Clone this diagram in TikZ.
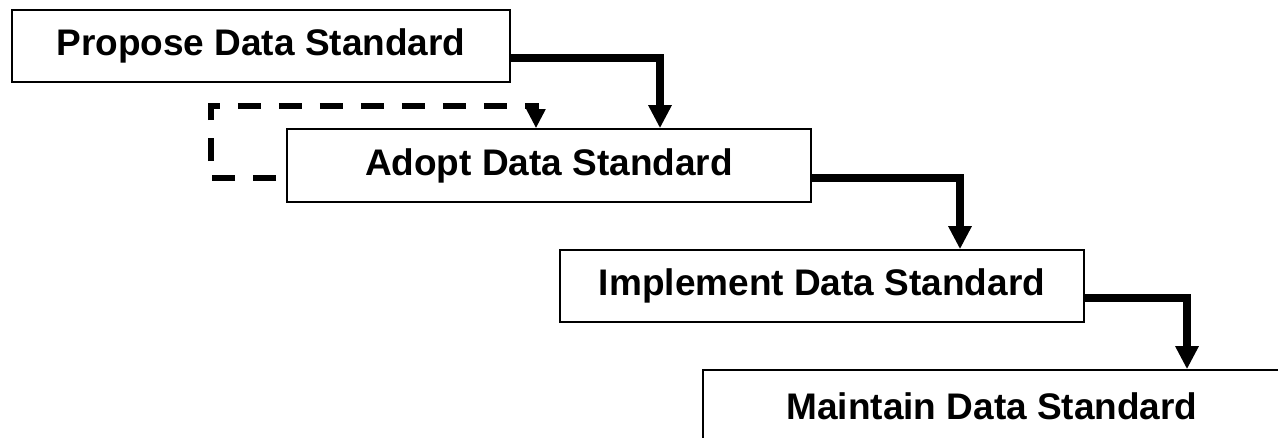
\documentclass[tikz,border=0pt]{standalone}
\usepackage{fontspec}
\setmainfont{Liberation Sans}
\usetikzlibrary{arrows.meta}
\begin{document}
\begin{tikzpicture}[x=1pt,y=-1pt,
  stage/.style={draw=black,line width=1.6pt,fill=white,inner sep=0pt,
    font=\fontsize{37}{40}\selectfont\bfseries},
  conn/.style={line width=7.5pt,line join=miter,-{Triangle[width=22pt,length=23pt]}},
  loopback/.style={line width=5.5pt,dash pattern=on 23pt off 18pt,dash phase=31pt,
    -{Triangle[width=18pt,length=19pt]}}]
\useasboundingbox (0,0) rectangle (1278,438);
\clip (0,0) rectangle (1278,438);
\node[stage,minimum width=498pt,minimum height=72pt] (b1) at (261,46) {Propose Data Standard};
\node[stage,minimum width=524pt,minimum height=73pt] (b2) at (549,165.5) {Adopt Data Standard};
\node[stage,minimum width=524pt,minimum height=72pt] (b3) at (822,286) {Implement Data Standard};
\node[stage,minimum width=578pt,minimum height=72pt] (b4) at (992,406) {Maintain Data Standard};
\draw[conn] ([yshift=-12pt]b1.east) -| ([xshift=111pt]b2.north);
\draw[conn] ([yshift=-12.5pt]b2.east) -| ([xshift=138pt]b3.north);
\draw[conn] ([yshift=-12pt]b3.east) -| ([xshift=195pt]b4.north);
\coordinate (lb1) at (211,178);
\coordinate (lb2) at (211,106);
\draw[loopback] ([yshift=-12.5pt]b2.west) -- (lb1) -- (lb2) -| ([xshift=-13pt]b2.north);
\end{tikzpicture}
\end{document}
